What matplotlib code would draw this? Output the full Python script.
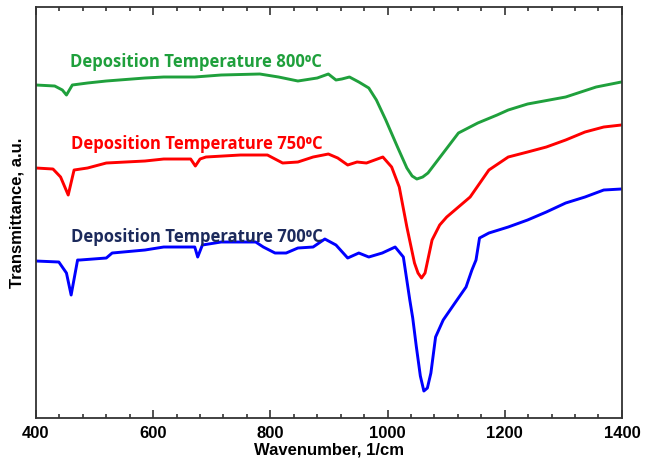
import numpy as np
import matplotlib.pyplot as plt
from matplotlib.ticker import MultipleLocator

# wavenumber (1/cm) and transmittance (arbitrary units, stacked)
wn_800 = [400, 432, 445, 452, 462, 488, 520, 586, 618, 671, 716, 782, 814, 847, 880, 899,
          912, 922, 935, 951, 968, 981, 997, 1017, 1033, 1042, 1050, 1060, 1069, 1095, 1121,
          1154, 1187, 1206, 1239, 1304, 1356, 1399]
tr_800 = [333, 332, 328, 323, 333, 335, 337, 340, 341, 341, 343, 344, 341, 337, 340, 344,
          338, 339, 341, 336, 330, 318, 298, 271, 250, 242, 239, 241, 245, 265, 285,
          295, 303, 308, 314, 321, 331, 336]

wn_750 = [400, 429, 442, 455, 465, 488, 520, 586, 618, 664, 672, 680, 690, 749, 795, 821,
          847, 873, 899, 915, 932, 948, 964, 992, 1007, 1020, 1033, 1046, 1052, 1058, 1064,
          1076, 1089, 1101, 1141, 1173, 1206, 1239, 1271, 1304, 1337, 1369, 1399]
tr_750 = [250, 249, 241, 223, 248, 250, 255, 257, 259, 259, 252, 259, 261, 263, 263, 255,
          256, 261, 264, 260, 253, 256, 255, 261, 251, 231, 191, 155, 145, 140, 145,
          178, 193, 201, 221, 248, 261, 266, 271, 278, 286, 291, 293]

wn_700 = [400, 439, 452, 460, 471, 475, 520, 530, 586, 618, 671, 676, 684, 716, 775, 788,
          808, 827, 847, 873, 893, 912, 932, 951, 968, 991, 1013, 1027, 1038, 1043,
          1049, 1056, 1062, 1068, 1074, 1082, 1095, 1115, 1134, 1144, 1151, 1157, 1173, 1206,
          1239, 1271, 1304, 1337, 1369, 1399]
tr_700 = [157, 156, 145, 123, 158, 158, 160, 165, 168, 171, 171, 161, 173, 176, 176, 171,
          165, 165, 170, 171, 179, 173, 160, 165, 161, 165, 171, 161, 118, 100,
          72, 42, 27, 30, 45, 81, 98, 115, 131, 148, 158, 180, 185, 191,
          198, 206, 215, 221, 228, 229]

labels = ['Deposition Temperature 800\u2070C',
          'Deposition Temperature 750\u2070C',
          'Deposition Temperature 700\u2070C']

fig = plt.figure(figsize=(6.46, 4.70), dpi=100)
ax = fig.add_axes([0.0557, 0.1106, 0.907, 0.8745])

ax.plot(wn_800, tr_800, color='#1fa03c', linewidth=2.1)
ax.plot(wn_750, tr_750, color='#ff0000', linewidth=2.1)
ax.plot(wn_700, tr_700, color='#0000ff', linewidth=2.1)

lab_font = dict(fontsize=12, fontweight='bold', family=['Open Sans', 'DejaVu Sans'])
ax.text(458, 356, labels[0], color='#1fa03c', va='center', **lab_font)
ax.text(460, 274, labels[1], color='#ff0000', va='center', **lab_font)
ax.text(460, 181, labels[2], color='#1c2a5c', va='center', **lab_font)

ax.set_xlim(400, 1400)
ax.set_ylim(0, 411)
ax.xaxis.set_major_locator(MultipleLocator(200))
ax.xaxis.set_minor_locator(MultipleLocator(40))
ax.tick_params(axis='x', which='both', direction='in', top=True, width=1.2, color='#333333')
ax.tick_params(axis='x', which='major', length=6, pad=6)
ax.tick_params(axis='x', which='minor', length=3)
ax.set_yticks([])
for lbl in ax.get_xticklabels():
    lbl.set_fontweight('bold')
    lbl.set_fontsize(12)
    lbl.set_family('Liberation Sans')
for s in ax.spines.values():
    s.set_linewidth(1.3)
    s.set_color('#333333')

ax.set_xlabel('Wavenumber, 1/cm', fontsize=12, fontweight='bold', family='Liberation Sans', labelpad=1)
ax.set_ylabel('Transmittance, a.u.', fontsize=12, fontweight='bold', family='Liberation Sans', labelpad=8)

fig.savefig('out.png', dpi=100)
